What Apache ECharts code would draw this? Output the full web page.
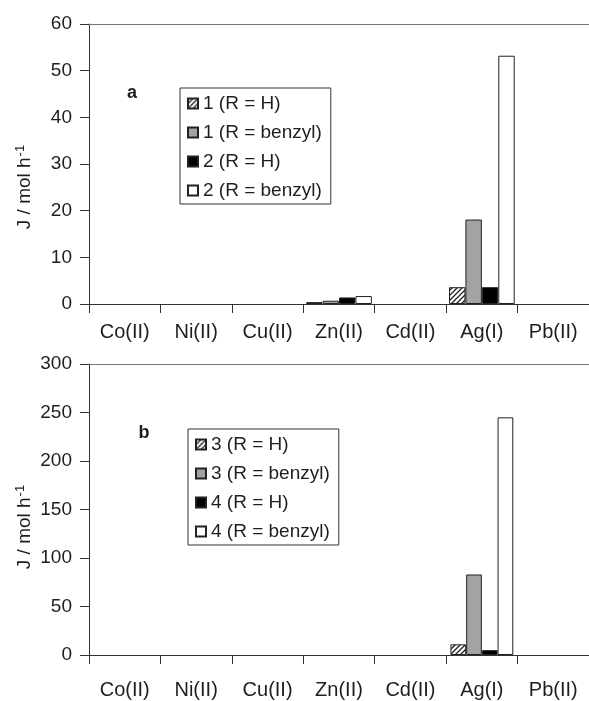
<!DOCTYPE html>
<html>
<head>
<meta charset="utf-8">
<script src="https://cdn.jsdelivr.net/npm/echarts@6/dist/echarts.min.js"></script>
<style>html,body{margin:0;padding:0;background:#fff;}#c{width:589px;height:701px;}</style>
</head>
<body>
<div id="c"></div>
<script>
var categories = ['Co(II)', 'Ni(II)', 'Cu(II)', 'Zn(II)', 'Cd(II)', 'Ag(I)', 'Pb(II)'];
var yTicksA = [0, 10, 20, 30, 40, 50, 60];
var yTicksB = [0, 50, 100, 150, 200, 250, 300];
var namesA = ['1 (R = H)', '1 (R = benzyl)', '2 (R = H)', '2 (R = benzyl)'];
var namesB = ['3 (R = H)', '3 (R = benzyl)', '4 (R = H)', '4 (R = benzyl)'];
var a1H  = [0, 0, 0, 0.4, 0, 3.6, 0];
var a1Bn = [0, 0, 0, 0.7, 0, 18.1, 0];
var a2H  = [0, 0, 0, 1.4, 0, 3.6, 0];
var a2Bn = [0, 0, 0, 1.7, 0, 53.2, 0];
var b3H  = [0, 0, 0, 0, 0, 11, 0];
var b3Bn = [0, 0, 0, 0, 0, 83, 0];
var b4H  = [0, 0, 0, 0, 0, 5, 0];
var b4Bn = [0, 0, 0, 0, 0, 245, 0];

var FONT = '"Liberation Sans", Arial, sans-serif';
var TXT = '#1e1e1e';

function hatch() {
  var c = document.createElement('canvas');
  c.width = 5; c.height = 5;
  var g = c.getContext('2d');
  g.fillStyle = '#fff'; g.fillRect(0, 0, 5, 5);
  g.strokeStyle = '#222'; g.lineWidth = 1.3;
  g.beginPath();
  g.moveTo(-1, 6); g.lineTo(6, -1);
  g.moveTo(-1, 1); g.lineTo(1, -1);
  g.moveTo(4, 6); g.lineTo(6, 4);
  g.stroke();
  return { image: c, repeat: 'repeat' };
}
var fills = [hatch(), '#a3a3a3', '#000000', '#ffffff'];

function mkSeries(names, datas, gi, gap) {
  return names.map(function (n, i) {
    return {
      name: n, type: 'bar', xAxisIndex: gi * 2, yAxisIndex: gi,
      // zero values draw no bar
      data: datas[i].map(function (v) { return v === 0 ? '-' : v; }),
      barGap: '0%', barCategoryGap: gap,
      itemStyle: { color: fills[i], borderColor: '#222', borderWidth: 1 },
      emphasis: { disabled: true }, animation: false
    };
  });
}

function xAxes(gi) {
  return [{
    type: 'category', gridIndex: gi, data: categories, position: 'bottom',
    axisLine: { lineStyle: { color: '#333', width: 1 } },
    axisTick: { show: true, length: 9, lineStyle: { color: '#333' } },
    axisLabel: { color: TXT, fontSize: 20, fontFamily: FONT, margin: gi === 0 ? 18 : 25 },
    splitLine: { show: false }
  }, {
    type: 'category', gridIndex: gi, data: categories, position: 'top',
    axisLine: { show: true, lineStyle: { color: '#777', width: 1 } },
    axisTick: { show: false }, axisLabel: { show: false }, splitLine: { show: false }
  }];
}

function yAxis(gi, ticks) {
  return {
    type: 'value', gridIndex: gi, min: ticks[0], max: ticks[ticks.length - 1],
    interval: ticks[1] - ticks[0],
    axisLine: { show: true, lineStyle: { color: '#333' } },
    axisTick: { show: true, inside: false, length: 9, lineStyle: { color: '#333' } },
    axisLabel: { color: TXT, fontSize: 19, fontFamily: FONT, margin: 17 },
    splitLine: { show: false }
  };
}

function legend(names, left, top) {
  return {
    data: names, orient: 'vertical', left: left, top: top,
    itemWidth: 10, itemHeight: 10, itemGap: 8, icon: 'rect',
    padding: [5, 9, 3, 7],
    borderColor: '#333', borderWidth: 1, backgroundColor: '#fff',
    textStyle: { color: TXT, fontSize: 19, fontFamily: FONT, lineHeight: 21 },
    selectedMode: false
  };
}

function yTitle(x, y) {
  return {
    type: 'text', x: x, y: y, rotation: Math.PI / 2,
    style: {
      text: 'J / mol h{sup|-1}', fill: TXT, font: '19px ' + FONT,
      align: 'center', verticalAlign: 'middle',
      rich: { sup: { fontSize: 13, fontFamily: FONT, fill: TXT, padding: [0, 0, 10, 1] } }
    }
  };
}

var chart = echarts.init(document.getElementById('c'), null, { renderer: 'canvas' });
chart.setOption({
  backgroundColor: '#fff',
  animation: false,
  grid: [
    { left: 89, top: 24, width: 502, height: 280 },
    { left: 89, top: 364, width: 509, height: 291 }
  ],
  xAxis: xAxes(0).concat(xAxes(1)),
  yAxis: [yAxis(0, yTicksA), yAxis(1, yTicksB)],
  legend: [legend(namesA, 180, 88), legend(namesB, 188, 429)],
  series: mkSeries(namesA, [a1H, a1Bn, a2H, a2Bn], 0, '8%')
    .concat(mkSeries(namesB, [b3H, b3Bn, b4H, b4Bn], 1, '12%')),
  graphic: [
    yTitle(25, 187),
    yTitle(25, 527),
    { type: 'text', x: 132, y: 93, style: { text: 'a', font: 'bold 18px ' + FONT, fill: TXT, align: 'center', verticalAlign: 'middle' } },
    { type: 'text', x: 144, y: 433, style: { text: 'b', font: 'bold 18px ' + FONT, fill: TXT, align: 'center', verticalAlign: 'middle' } }
  ]
});
</script>
</body>
</html>
